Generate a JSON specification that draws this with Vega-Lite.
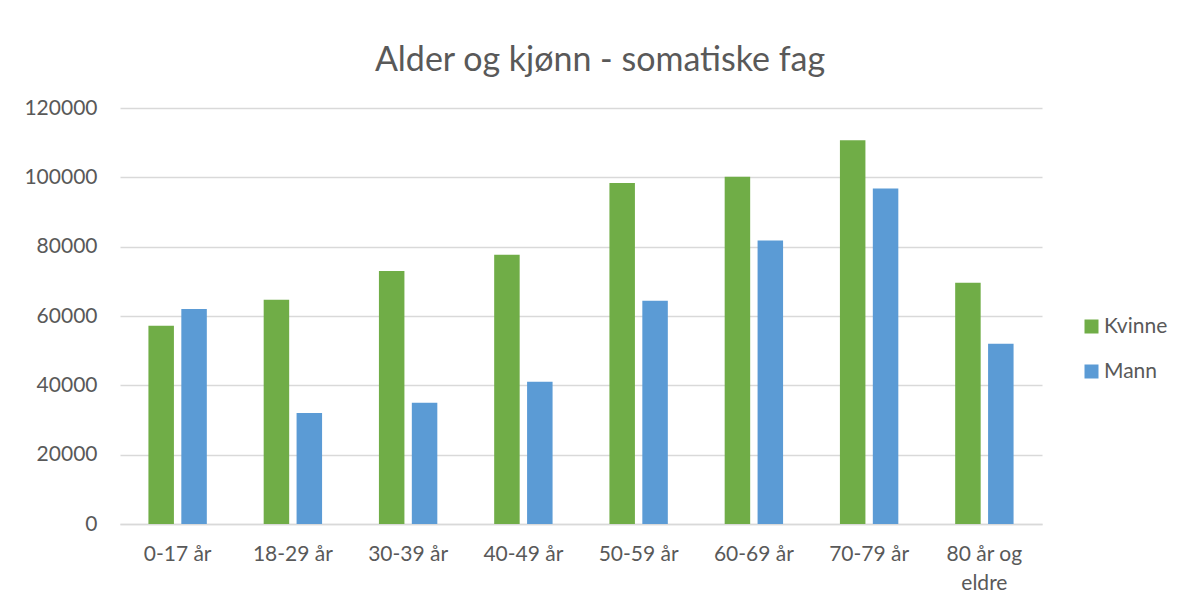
{
  "$schema": "https://vega.github.io/schema/vega-lite/v6.json",
  "width": 922,
  "height": 416,
  "autosize": {"type": "none"},
  "padding": {"left": 120, "top": 108, "right": 142, "bottom": 82},
  "background": "white",
  "title": {
    "text": "Alder og kjønn - somatiske fag",
    "font": "Lato",
    "fontSize": 34,
    "fontWeight": "normal",
    "color": "#595959",
    "baseline": "alphabetic",
    "offset": -8,
    "dx": 19
  },
  "config": {
    "view": {"stroke": null},
    "font": "Lato"
  },
  "data": {
    "values": [
      {"alder": "0-17 år", "kjonn": "Kvinne", "antall": 57200},
      {"alder": "0-17 år", "kjonn": "Mann", "antall": 62000},
      {"alder": "18-29 år", "kjonn": "Kvinne", "antall": 64700},
      {"alder": "18-29 år", "kjonn": "Mann", "antall": 32000},
      {"alder": "30-39 år", "kjonn": "Kvinne", "antall": 73000},
      {"alder": "30-39 år", "kjonn": "Mann", "antall": 35000},
      {"alder": "40-49 år", "kjonn": "Kvinne", "antall": 77700},
      {"alder": "40-49 år", "kjonn": "Mann", "antall": 41000},
      {"alder": "50-59 år", "kjonn": "Kvinne", "antall": 98400},
      {"alder": "50-59 år", "kjonn": "Mann", "antall": 64400},
      {"alder": "60-69 år", "kjonn": "Kvinne", "antall": 100200},
      {"alder": "60-69 år", "kjonn": "Mann", "antall": 81800},
      {"alder": "70-79 år", "kjonn": "Kvinne", "antall": 110700},
      {"alder": "70-79 år", "kjonn": "Mann", "antall": 96800},
      {"alder": "80 år og eldre", "kjonn": "Kvinne", "antall": 69600},
      {"alder": "80 år og eldre", "kjonn": "Mann", "antall": 52000}
    ]
  },
  "mark": {"type": "bar"},
  "encoding": {
    "x": {
      "field": "alder",
      "type": "nominal",
      "sort": null,
      "scale": {"paddingInner": 0, "paddingOuter": 0},
      "axis": {
        "title": null,
        "labelAngle": 0,
        "labelFontSize": 21,
        "labelColor": "#595959",
        "labelPadding": 19,
        "labelLineHeight": 29,
        "labelExpr": "datum.value == '80 år og eldre' ? ['80 år og', 'eldre'] : datum.value",
        "ticks": false,
        "domain": true,
        "domainColor": "#D9D9D9",
        "domainWidth": 1.5,
        "grid": false
      }
    },
    "xOffset": {
      "field": "kjonn",
      "type": "nominal",
      "sort": ["Kvinne", "Mann"],
      "scale": {"paddingInner": 0.225, "paddingOuter": 0.864}
    },
    "y": {
      "field": "antall",
      "type": "quantitative",
      "scale": {"domain": [0, 120000], "nice": false},
      "axis": {
        "title": null,
        "values": [0, 20000, 40000, 60000, 80000, 100000, 120000],
        "format": "d",
        "labelFontSize": 21,
        "labelColor": "#595959",
        "labelPadding": 23,
        "ticks": false,
        "domain": false,
        "gridColor": "#D9D9D9",
        "gridWidth": 1.5
      }
    },
    "color": {
      "field": "kjonn",
      "type": "nominal",
      "scale": {"domain": ["Kvinne", "Mann"], "range": ["#70AD47", "#5B9BD5"]},
      "legend": {
        "title": null,
        "orient": "none",
        "legendX": 961,
        "legendY": 208,
        "symbolType": "square",
        "symbolSize": 196,
        "symbolStrokeWidth": 0,
        "symbolOpacity": 1,
        "labelFontSize": 21,
        "labelColor": "#595959",
        "labelOffset": 2,
        "rowPadding": 23
      }
    }
  }
}
